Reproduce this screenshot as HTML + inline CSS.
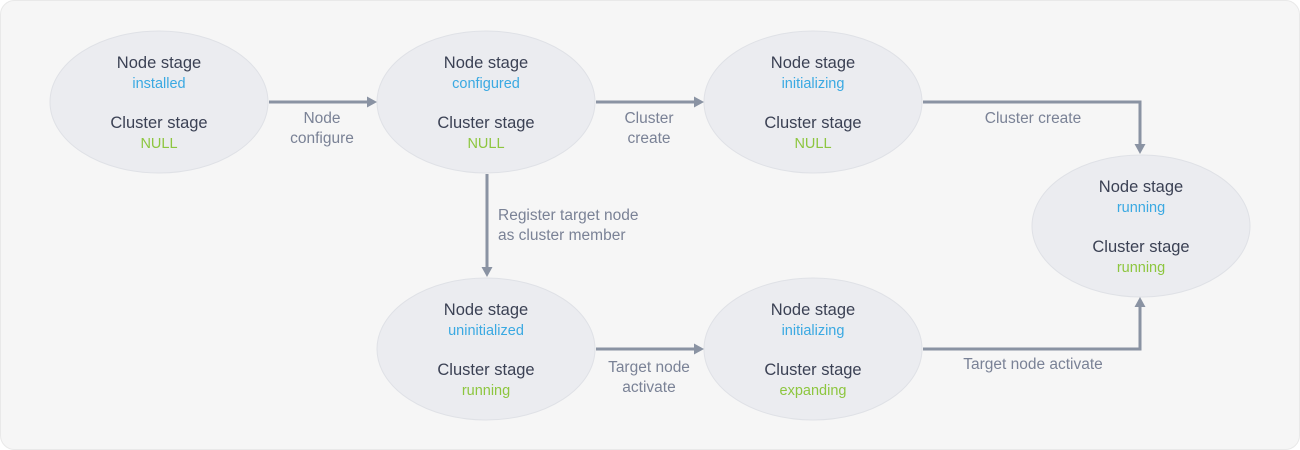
<!DOCTYPE html>
<html><head><style>
body{margin:0;background:#fff;}
svg{display:block;font-family:"Liberation Sans",sans-serif;}
.t{font-size:16.5px;fill:#3b4154;text-anchor:middle;}
.b{font-size:14.5px;fill:#3aa9e2;text-anchor:middle;}
.g{font-size:14.5px;fill:#8dc63f;text-anchor:middle;}
.l{font-size:15.5px;fill:#7a8296;text-anchor:middle;}
.a{stroke:#8a93a3;stroke-width:3;fill:none;}
.h{fill:#8a93a3;}
ellipse{fill:#ebecf0;stroke:#dfe1e6;stroke-width:1;}
</style></head><body>
<svg width="1300" height="450" viewBox="0 0 1300 450">
<rect x="0.5" y="0.5" width="1299" height="449" rx="14" fill="#f6f6f6" stroke="#e9e9e9"/>
<g>
<ellipse cx="159" cy="102" rx="109" ry="71"/>
<text class="t" x="159" y="68">Node stage</text><text class="b" x="159" y="88">installed</text>
<text class="t" x="159" y="128">Cluster stage</text><text class="g" x="159" y="148">NULL</text>
</g>
<g>
<ellipse cx="486" cy="102" rx="109" ry="71"/>
<text class="t" x="486" y="68">Node stage</text><text class="b" x="486" y="88">configured</text>
<text class="t" x="486" y="128">Cluster stage</text><text class="g" x="486" y="148">NULL</text>
</g>
<g>
<ellipse cx="813" cy="102" rx="109" ry="71"/>
<text class="t" x="813" y="68">Node stage</text><text class="b" x="813" y="88">initializing</text>
<text class="t" x="813" y="128">Cluster stage</text><text class="g" x="813" y="148">NULL</text>
</g>
<g>
<ellipse cx="1141" cy="226" rx="109" ry="71"/>
<text class="t" x="1141" y="192">Node stage</text><text class="b" x="1141" y="212">running</text>
<text class="t" x="1141" y="252">Cluster stage</text><text class="g" x="1141" y="272">running</text>
</g>
<g>
<ellipse cx="486" cy="349" rx="109" ry="71"/>
<text class="t" x="486" y="315">Node stage</text><text class="b" x="486" y="335">uninitialized</text>
<text class="t" x="486" y="375">Cluster stage</text><text class="g" x="486" y="395">running</text>
</g>
<g>
<ellipse cx="813" cy="349" rx="109" ry="71"/>
<text class="t" x="813" y="315">Node stage</text><text class="b" x="813" y="335">initializing</text>
<text class="t" x="813" y="375">Cluster stage</text><text class="g" x="813" y="395">expanding</text>
</g>
<line class="a" x1="269" y1="102" x2="368" y2="102"/><polygon class="h" points="377,102 367,96.5 367,107.5"/>
<text class="l" x="322" y="123">Node</text><text class="l" x="322" y="143">configure</text>
<line class="a" x1="596" y1="102" x2="695" y2="102"/><polygon class="h" points="704,102 694,96.5 694,107.5"/>
<text class="l" x="649" y="123">Cluster</text><text class="l" x="649" y="143">create</text>
<polyline class="a" points="923,102 1140,102 1140,145"/><polygon class="h" points="1140,154 1134.5,144 1145.5,144"/>
<text class="l" x="1033" y="123">Cluster create</text>
<line class="a" x1="487" y1="174" x2="487" y2="268"/><polygon class="h" points="487,277 481.5,267 492.5,267"/>
<text class="l" x="498" y="220" style="text-anchor:start">Register target node</text>
<text class="l" x="498" y="240" style="text-anchor:start">as cluster member</text>
<line class="a" x1="596" y1="349" x2="695" y2="349"/><polygon class="h" points="704,349 694,343.5 694,354.5"/>
<text class="l" x="649" y="372">Target node</text><text class="l" x="649" y="392">activate</text>
<polyline class="a" points="923,349 1140,349 1140,306"/><polygon class="h" points="1140,297 1134.5,307 1145.5,307"/>
<text class="l" x="1033" y="369">Target node activate</text>
</svg>
</body></html>
